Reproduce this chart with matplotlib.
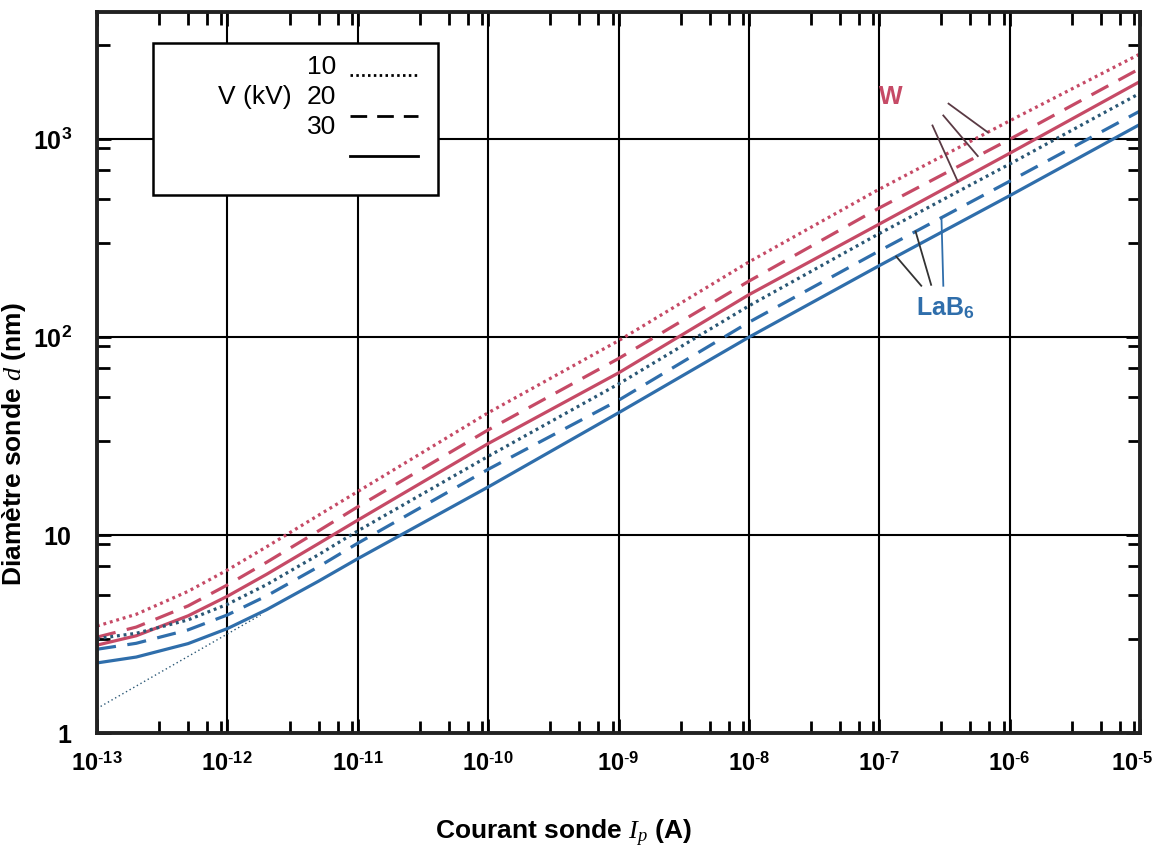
import numpy as np
import matplotlib
matplotlib.use('Agg')
import matplotlib.pyplot as plt
from matplotlib.ticker import FixedLocator, FixedFormatter, LogLocator, NullFormatter
from matplotlib.lines import Line2D
from matplotlib.patches import Rectangle
from matplotlib.transforms import ScaledTranslation

plt.rcParams['font.family'] = ['Liberation Sans', 'DejaVu Sans']
plt.rcParams['mathtext.fontset'] = 'custom'
plt.rcParams['mathtext.rm'] = 'Liberation Sans'
plt.rcParams['mathtext.bf'] = 'Liberation Sans:bold'
plt.rcParams['mathtext.it'] = 'Liberation Serif:italic'

# probe current (A)
courant = [1e-13, 2e-13, 5e-13, 1e-12, 2e-12, 5e-12, 1e-11, 1e-10, 1e-9, 1e-8, 1e-7, 1e-6, 1e-5]

# probe diameter (nm), tungsten gun
w_10kv = [3.47, 3.98, 5.2, 6.66, 8.73, 12.6, 16.6, 41.5, 96, 240, 560, 1240, 2700]
w_20kv = [3.05, 3.43, 4.39, 5.6, 7.29, 10.5, 13.9, 34, 78, 192, 450, 1000, 2280]
w_30kv = [2.78, 3.10, 3.91, 4.91, 6.34, 9.06, 11.9, 29, 66, 164, 373, 850, 1960]

# probe diameter (nm), LaB6 gun
lab6_10kv = [3.0, 3.19, 3.73, 4.47, 5.62, 7.96, 10.5, 25, 58, 144, 334, 750, 1710]
lab6_20kv = [2.65, 2.84, 3.32, 3.95, 4.93, 6.92, 9.1, 21.5, 48, 119, 273, 614, 1390]
lab6_30kv = [2.26, 2.42, 2.83, 3.37, 4.2, 5.85, 7.6, 17.5, 41.5, 100, 230, 519, 1190]

# thin dotted asymptote under the LaB6 30 kV curve
asym_x = [1e-13, 1.8e-12]
asym_y = [1.33, 3.95]

x_ticks = [1e-13, 1e-12, 1e-11, 1e-10, 1e-9, 1e-8, 1e-7, 1e-6, 1e-5]
x_labels = [r'$\mathbf{10}^{\text{-}\mathbf{%d}}$' % k for k in range(13, 4, -1)]
y_ticks = [1, 10, 100, 1000]
y_labels = [r'$\mathbf{1}$', r'$\mathbf{10}$', r'$\mathbf{10^{2}}$', r'$\mathbf{10^{3}}$']

red = '#c64a66'
blue = '#2f6eab'
blue_dot = '#2a5775'

dotted = (0, (0.9, 1.2))
dashed = (0, (6.0, 3.6))


def on_curve(xv, ys):
    return 10 ** np.interp(np.log10(xv), np.log10(courant), np.log10(ys))


fig = plt.figure(figsize=(11.59, 8.55), dpi=100)
ax = fig.add_axes([97 / 1159, 122 / 855, 1043 / 1159, 721 / 855])

lw = 2.3
ax.plot(courant, w_10kv, color=red, lw=lw, linestyle=dotted)
ax.plot(courant, w_20kv, color=red, lw=lw, linestyle=dashed)
ax.plot(courant, w_30kv, color=red, lw=lw)
ax.plot(courant, lab6_10kv, color=blue_dot, lw=lw, linestyle=dotted)
ax.plot(courant, lab6_20kv, color=blue, lw=lw, linestyle=dashed)
ax.plot(courant, lab6_30kv, color=blue, lw=lw)
ax.plot(asym_x, asym_y, color=blue_dot, lw=1.0, linestyle=(0, (1, 2)))

ax.set_xscale('log')
ax.set_yscale('log')
ax.set_xlim(1e-13, 1e-5)
ax.set_ylim(1, 4400)

ax.xaxis.set_major_locator(FixedLocator(x_ticks))
ax.xaxis.set_major_formatter(FixedFormatter(x_labels))
ax.yaxis.set_major_locator(FixedLocator(y_ticks))
ax.yaxis.set_major_formatter(FixedFormatter(y_labels))
ax.xaxis.set_minor_locator(LogLocator(base=10, subs=[3, 5, 7, 9], numticks=20))
ax.yaxis.set_minor_locator(LogLocator(base=10, subs=[3, 5, 7, 9], numticks=20))
ax.xaxis.set_minor_formatter(NullFormatter())
ax.yaxis.set_minor_formatter(NullFormatter())

ax.tick_params(which='both', direction='in', top=True, right=True, color='black')
ax.tick_params(which='major', length=10, width=2)
ax.tick_params(which='minor', length=9, width=2)
ax.tick_params(axis='x', which='major', pad=14, labelsize=17)
ax.tick_params(axis='y', which='major', pad=18, labelsize=18)

# keep the last x label inside the figure
last = ax.get_xticklabels()[-1]
last.set_transform(last.get_transform() + ScaledTranslation(-8 / 100, 0, fig.dpi_scale_trans))

ax.grid(True, which='major', color='black', lw=1.5)
for s in ax.spines.values():
    s.set_linewidth(2.8)
    s.set_color('#222222')

ax.set_xlabel(r'Courant sonde $I_p$ (A)', fontsize=19, fontweight='bold')
ax.xaxis.set_label_coords(0.447, -0.118)
ax.set_ylabel(r'Diamètre sonde $d$ (nm)', fontsize=19, fontweight='bold')
ax.yaxis.set_label_coords(-0.066, 0.40)

# curve labels with leader lines
ax.text(1.23e-7, 1630, 'W', color=red, fontsize=18, fontweight='bold',
        ha='center', va='center')
w_leaders = [(6.8e-7, w_10kv, 3.4e-7, 1515),
             (5.7e-7, w_20kv, 3.1e-7, 1320),
             (4.0e-7, w_30kv, 2.56e-7, 1175)]
for xe, ys, xs, ysart in w_leaders:
    ax.plot([xs, xe], [ysart, on_curve(xe, ys)], color='#5a3a44', lw=1.3)

ax.text(3.2e-7, 140, r'LaB$_\mathbf{6}$', color=blue, fontsize=18, fontweight='bold',
        ha='center', va='center')
lab_leaders = [(1.35e-7, lab6_30kv, 2.1e-7, 182, '#333333'),
               (1.9e-7, lab6_20kv, 2.5e-7, 184, '#333333'),
               (3.0e-7, lab6_20kv, 3.1e-7, 182, blue)]
for xe, ys, xs, ysart, c in lab_leaders:
    ax.plot([xs, xe], [ysart, on_curve(xe, ys)], color=c, lw=1.3)


# voltage key box (figure pixel coordinates)
def fx(px):
    return px / 1159


def fy(py):
    return 1 - py / 855


fig.patches.append(Rectangle((fx(153), fy(195)), fx(438) - fx(153), fy(43) - fy(195),
                             transform=fig.transFigure, facecolor='white',
                             edgecolor='black', lw=1.8, zorder=5))
for txt, py in [('10', 67), ('20', 97), ('30', 127)]:
    fig.text(fx(336), fy(py), txt, fontsize=19, ha='right', va='center', zorder=6)
fig.text(fx(292), fy(97), 'V (kV)', fontsize=19, ha='right', va='center', zorder=6)
for py, ls in [(75, dotted), (116, dashed), (156, '-')]:
    fig.lines.append(Line2D([fx(350), fx(418)], [fy(py), fy(py)], transform=fig.transFigure,
                            color='black', lw=2.0, linestyle=ls, zorder=6))

fig.savefig('out.png', dpi=100)
